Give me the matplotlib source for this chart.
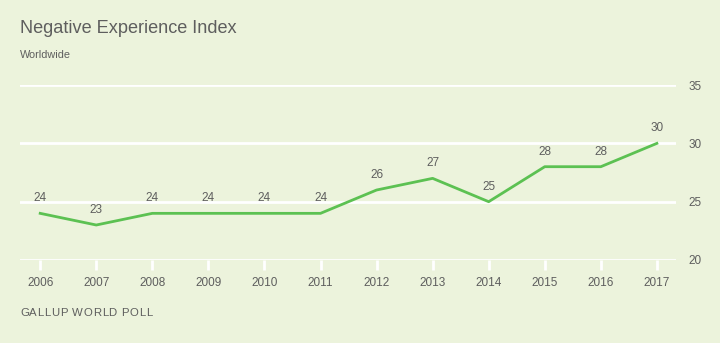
import matplotlib
matplotlib.use('Agg')
import matplotlib.pyplot as plt
from matplotlib import font_manager
from matplotlib.ft2font import FT2Font

years = [2006, 2007, 2008, 2009, 2010, 2011, 2012, 2013, 2014, 2015, 2016, 2017]
index_values = [24, 23, 24, 24, 24, 24, 26, 27, 25, 28, 28, 30]
y_ticks = [20, 25, 30, 35]

bg = '#ECF3DC'
green = '#5CC152'
gray = '#5E5E5E'

plt.rcParams['font.family'] = ['Liberation Sans', 'DejaVu Sans']

fig = plt.figure(figsize=(7.2, 3.43), dpi=100, facecolor=bg)
ax = fig.add_axes([0.0278, 0.242, 0.911, 0.510])
ax.set_facecolor(bg)

ax.plot(years, index_values, color=green, linewidth=2.0, zorder=3)
for x, v in zip(years, index_values):
    ax.annotate(str(v), (x, v), xytext=(0, 6.5), textcoords='offset points',
                ha='center', va='bottom', fontsize=8.5, color=gray)

ax.set_xlim(2005.64, 2017.34)
ax.set_ylim(20, 35)
ax.set_yticks(y_ticks)
ax.yaxis.tick_right()
ax.grid(axis='y', color='white', linewidth=2, zorder=1)
ax.set_xticks(years)
ax.set_xticklabels([str(y) for y in years])
ax.tick_params(axis='x', colors='white', length=7, width=2, labelcolor=gray,
               labelsize=8.5, pad=5.5)
ax.tick_params(axis='y', length=0, labelcolor=gray, labelsize=8.5, pad=9)
for s in ax.spines.values():
    s.set_visible(False)
ax.set_axisbelow(True)

fig.text(0.0278, 0.918, 'Negative Experience Index', fontsize=13.1, color=gray,
         ha='left', va='center')
fig.text(0.0278, 0.840, 'Worldwide', fontsize=7.8, color=gray,
         ha='left', va='center')

# letter-spaced footer, using glyph advances
footer = 'GALLUP WORLD POLL'
fsize = 8.2
font = FT2Font(font_manager.findfont('Liberation Sans'))
font.set_size(fsize, 100)
advances = []
for ch in footer:
    g = font.load_char(ord(ch))
    advances.append(g.linearHoriAdvance / 65536)
tracking = (132 - sum(advances)) / (len(footer) - 1)
x_px = 20.0
for ch, adv in zip(footer, advances):
    fig.text(x_px / 720, 0.088, ch, fontsize=fsize, color=gray,
             ha='left', va='center')
    x_px += adv + tracking

fig.savefig('out.png', dpi=100, facecolor=bg)
